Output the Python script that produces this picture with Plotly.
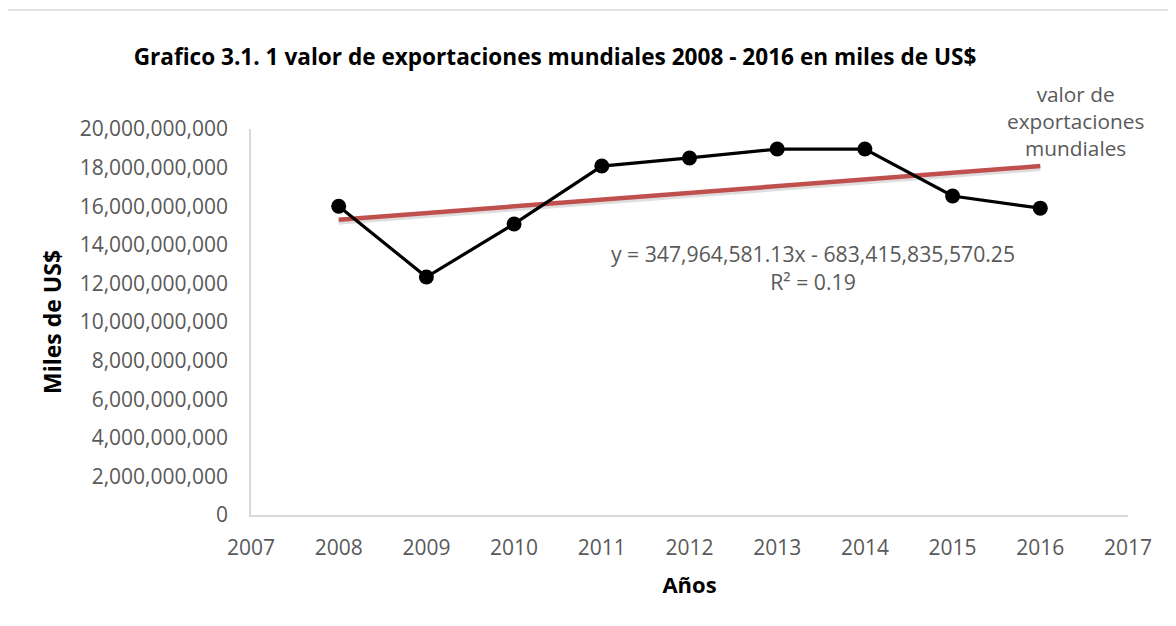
import plotly.graph_objects as go

years = [2008, 2009, 2010, 2011, 2012, 2013, 2014, 2015, 2016]
exports = [16.0e9, 12.33e9, 15.08e9, 18.08e9, 18.5e9, 18.96e9, 18.96e9, 16.53e9, 15.9e9]
trend_slope = 347964581.13
trend_intercept = -683415835570.25
x_ticks = list(range(2007, 2018))
y_ticks = [i * 2e9 for i in range(11)]
y_tick_labels = ["0"] + [f"{int(v):,}" for v in y_ticks[1:]]

FONT = "Open Sans"
GRAY = "#595959"

# page body has an 8px margin; layout numbers below are in figure pixels
W, H = 1168, 618
PL, PR, PT, PB = 243, 1120, 121, 507  # plot area edges (figure px)


def px(xp):
    return (xp - PL) / (PR - PL)


def py(yp):
    return (PB - yp) / (PB - PT)


trend_x = [years[0], years[-1]]
trend_y = [trend_slope * x + trend_intercept for x in trend_x]

fig = go.Figure()
fig.add_trace(go.Scatter(x=trend_x, y=[v - 0.13e9 for v in trend_y], mode="lines",
                         line=dict(color="rgba(0,0,0,0.13)", width=5), hoverinfo="skip", showlegend=False))
fig.add_trace(go.Scatter(x=trend_x, y=trend_y, mode="lines",
                         line=dict(color="#c0504d", width=4.5), showlegend=False))
fig.add_trace(go.Scatter(x=years, y=exports, mode="lines+markers",
                         line=dict(color="black", width=3.2),
                         marker=dict(color="black", size=15),
                         showlegend=False))

fig.update_layout(
    width=W, height=H,
    paper_bgcolor="white", plot_bgcolor="white",
    margin=dict(l=PL, r=W - PR, t=PT, b=H - PB),
    font=dict(family=FONT, color=GRAY, size=20),
    title=dict(text="<b>Grafico 3.1. 1 valor de exportaciones mundiales 2008 - 2016 en miles de US$</b>",
               x=547 / W, xanchor="center", y=1 - 49 / H, yanchor="middle",
               font=dict(family=FONT, size=22.6, color="black")),
    xaxis=dict(range=[2007, 2017], tickvals=x_ticks, ticktext=[str(v) for v in x_ticks],
               showgrid=False, zeroline=False, showline=True, linecolor="#d9d9d9", linewidth=1.5,
               ticks="", ticklabelstandoff=13, tickfont=dict(size=21, color=GRAY),
               title=dict(text="<b>Años</b>", font=dict(size=22, color="black"), standoff=18)),
    yaxis=dict(range=[0, 20e9], tickvals=y_ticks, ticktext=y_tick_labels,
               showgrid=False, zeroline=False, showline=True, linecolor="#d9d9d9", linewidth=1.5,
               ticks="", ticklabelstandoff=17, tickfont=dict(size=21, color=GRAY),
               title=dict(text="<b>Miles de US$</b>", font=dict(size=23, color="black"), standoff=12)),
    annotations=[
        dict(text="y = 347,964,581.13x - 683,415,835,570.25<br>R² = 0.19",
             xref="paper", yref="paper", x=px(805), y=py(259),
             xanchor="center", yanchor="middle", showarrow=False, align="center",
             font=dict(family=FONT, size=21.2, color=GRAY)),
        dict(text="valor de<br>exportaciones<br>mundiales",
             xref="paper", yref="paper", x=px(1067), y=py(113),
             xanchor="center", yanchor="middle", showarrow=False, align="center",
             font=dict(family=FONT, size=20.8, color=GRAY)),
    ],
    shapes=[dict(type="line", xref="paper", yref="paper",
                 x0=px(0), x1=px(W), y0=py(2), y1=py(2),
                 line=dict(color="#d9d9d9", width=1.5), layer="below")],
)

fig.write_html("out.html")
